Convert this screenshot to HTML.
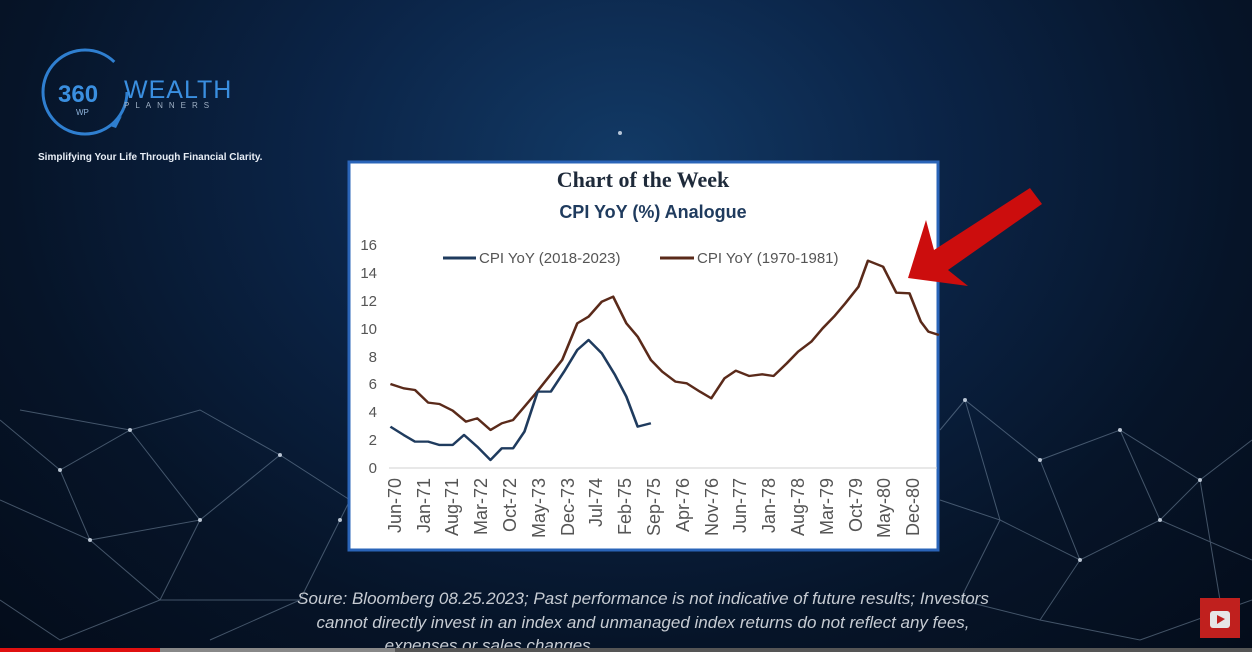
<!DOCTYPE html>
<html><head><meta charset="utf-8"><style>
html,body{margin:0;padding:0;width:1252px;height:652px;overflow:hidden;background:#07142a;font-family:"Liberation Sans",sans-serif}
.bg{position:absolute;left:0;top:0;width:1252px;height:652px;background:radial-gradient(ellipse at 50% 25%,#123a66 0%,#0b2447 35%,#061428 70%,#040c1a 100%)}
</style></head><body>
<div class="bg"></div>
<svg width="1252" height="652" style="position:absolute;left:0;top:0">
<g stroke="#8fa6bd" stroke-width="1" opacity="0.45" fill="none">
<polyline points="0,420 60,470 130,430 200,520 280,455 350,500 300,600 210,640"/>
<polyline points="0,500 90,540 160,600 60,640 0,600"/>
<polyline points="20,410 130,430 200,410 280,455"/>
<polyline points="940,430 965,400 1040,460 1120,430 1200,480 1252,440"/>
<polyline points="965,400 1000,520 1080,560 1160,520 1252,560"/>
<polyline points="1040,460 1080,560 1040,620 1140,640 1252,600"/>
<polyline points="940,500 1000,520 960,600 1040,620"/>
<polyline points="1120,430 1160,520 1200,480 1220,600"/>
<polyline points="60,470 90,540 200,520 160,600 300,600"/>
</g>
<g fill="#dfe9f5" opacity="0.8">
<circle cx="60" cy="470" r="2"/><circle cx="130" cy="430" r="2"/><circle cx="200" cy="520" r="2"/><circle cx="280" cy="455" r="2"/><circle cx="965" cy="400" r="2"/><circle cx="1040" cy="460" r="2"/><circle cx="1120" cy="430" r="2"/><circle cx="1080" cy="560" r="2"/><circle cx="1200" cy="480" r="2"/><circle cx="90" cy="540" r="2"/><circle cx="1160" cy="520" r="2"/><circle cx="620" cy="133" r="2"/><circle cx="340" cy="520" r="2"/>
</g>
<circle cx="85" cy="92" r="42" fill="none" stroke="#2f7fd0" stroke-width="3" stroke-dasharray="230 40"/>
<path d="M110,126 L122,116 L116,128 Z" fill="#2f7fd0"/>
<text x="58" y="102" font-size="24" font-weight="bold" fill="#3a8fe0">360</text>
<text x="76" y="115" font-size="8" fill="#8fb4dc">WP</text>
<text x="124" y="98" font-size="25" fill="#3a8fe0" letter-spacing="1">WEALTH</text>
<text x="124" y="108" font-size="8" fill="#9fb0c4" letter-spacing="6">PLANNERS</text>
<text x="38" y="160" font-size="10" font-weight="bold" fill="#e8eef6">Simplifying Your Life Through Financial Clarity.</text>
<rect x="349" y="162" width="589" height="388" fill="#ffffff" stroke="#2a64b8" stroke-width="3"/>
<text x="643" y="187" text-anchor="middle" font-family="Liberation Serif" font-weight="bold" font-size="22" fill="#1e2a3a">Chart of the Week</text>
<text x="653" y="218" text-anchor="middle" font-weight="bold" font-size="18" fill="#1f3b5e">CPI YoY (%) Analogue</text>
<g font-size="15" fill="#555" text-anchor="end">
<text x="377" y="250">16</text><text x="377" y="278">14</text><text x="377" y="306">12</text><text x="377" y="334">10</text><text x="377" y="362">8</text><text x="377" y="389">6</text><text x="377" y="417">4</text><text x="377" y="445">2</text><text x="377" y="473">0</text>
</g>
<line x1="389" y1="468" x2="937" y2="468" stroke="#d0d0d0"/>
<g font-size="18" fill="#555" text-anchor="end">
<text transform="translate(401,478) rotate(-90)">Jun-70</text>
<text transform="translate(430,478) rotate(-90)">Jan-71</text>
<text transform="translate(458,478) rotate(-90)">Aug-71</text>
<text transform="translate(487,478) rotate(-90)">Mar-72</text>
<text transform="translate(516,478) rotate(-90)">Oct-72</text>
<text transform="translate(545,478) rotate(-90)">May-73</text>
<text transform="translate(574,478) rotate(-90)">Dec-73</text>
<text transform="translate(602,478) rotate(-90)">Jul-74</text>
<text transform="translate(631,478) rotate(-90)">Feb-75</text>
<text transform="translate(660,478) rotate(-90)">Sep-75</text>
<text transform="translate(689,478) rotate(-90)">Apr-76</text>
<text transform="translate(718,478) rotate(-90)">Nov-76</text>
<text transform="translate(746,478) rotate(-90)">Jun-77</text>
<text transform="translate(775,478) rotate(-90)">Jan-78</text>
<text transform="translate(804,478) rotate(-90)">Aug-78</text>
<text transform="translate(833,478) rotate(-90)">Mar-79</text>
<text transform="translate(862,478) rotate(-90)">Oct-79</text>
<text transform="translate(890,478) rotate(-90)">May-80</text>
<text transform="translate(919,478) rotate(-90)">Dec-80</text>
</g>
<line x1="443" y1="258" x2="476" y2="258" stroke="#1f3b5e" stroke-width="3"/>
<text x="479" y="263" font-size="15" fill="#555">CPI YoY (2018-2023)</text>
<line x1="660" y1="258" x2="694" y2="258" stroke="#5a2a1a" stroke-width="3"/>
<text x="697" y="263" font-size="15" fill="#555">CPI YoY (1970-1981)</text>
<g transform="translate(347,160) scale(0.3775,0.3333)" fill="none" stroke-width="7" stroke-linejoin="round">
<polyline stroke="#5a2a1a" points="115,672 150,685 180,690 215,728 245,732 280,752 315,785 345,775 380,810 410,790 440,780 470,740 500,700 535,650 570,600 610,490 640,470 675,425 705,410 740,490 770,530 805,600 835,635 870,665 900,670 935,695 965,715 1000,655 1030,632 1065,648 1100,643 1130,648 1165,610 1195,575 1230,545 1260,505 1290,470 1320,430 1355,380 1380,302 1420,320 1455,398 1490,400 1520,485 1540,515 1568,525"/>
<polyline stroke="#1f3b5e" points="115,800 150,825 180,845 215,845 245,855 280,855 310,825 345,860 380,900 410,865 440,865 470,815 505,695 540,695 575,635 610,570 640,540 675,580 710,645 740,710 770,800 805,790"/>
</g>
<polygon points="1030,188 1042,204 948,270 968,286 908,278 926,220 934,250" fill="#cc0d0d"/>
<g font-size="17" font-style="italic" fill="#c7ccd3" text-anchor="middle">
<text x="643" y="604">Soure: Bloomberg 08.25.2023; Past performance is not indicative of future results; Investors</text>
<text x="643" y="628">cannot directly invest in an index and unmanaged index returns do not reflect any fees,</text>
<text x="490" y="651">expenses or sales changes.</text>
</g>
<rect x="1200" y="598" width="40" height="40" fill="#c0201e"/>
<rect x="1210" y="611" width="20" height="17" rx="3" fill="#e6e6e6"/>
<polygon points="1217,615 1217,624 1225,619" fill="#c0201e"/>
<rect x="0" y="648" width="1252" height="4" fill="#555"/>
<rect x="0" y="648" width="160" height="4" fill="#e01010"/>
<rect x="160" y="648" width="235" height="4" fill="#888"/>
</svg>
</body></html>
